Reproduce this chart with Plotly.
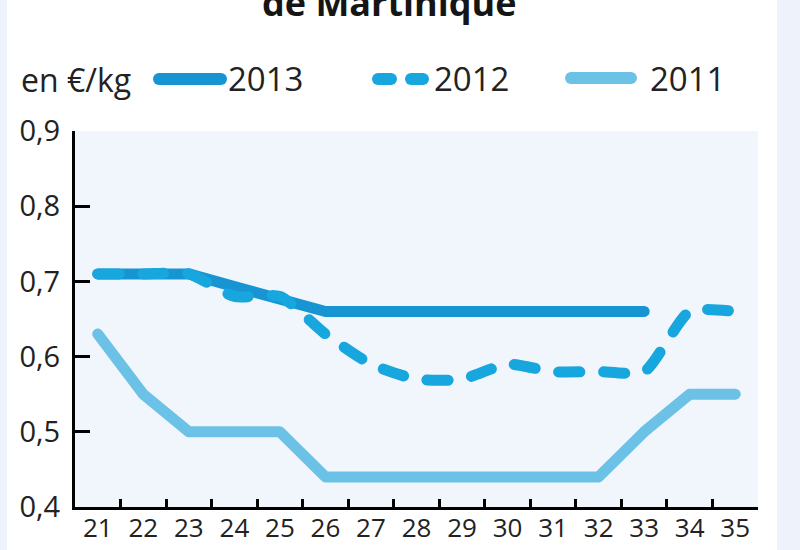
import plotly.graph_objects as go

# ---- data ----
weeks = [str(w) for w in range(21, 36)]
price_2013 = [0.71, 0.71, 0.71, 0.693, 0.677, 0.66, 0.66, 0.66, 0.66, 0.66, 0.66, 0.66, 0.66, None, None]
price_2012 = [0.71, 0.71, 0.71, 0.68, 0.68, 0.63, 0.59, 0.57, 0.57, 0.59, 0.58, 0.58, 0.58, 0.66, 0.66]
price_2011 = [0.63, 0.55, 0.50, 0.50, 0.50, 0.44, 0.44, 0.44, 0.44, 0.44, 0.44, 0.44, 0.50, 0.55, 0.55]
y_ticks = [0.4, 0.5, 0.6, 0.7, 0.8, 0.9]
title_text = "de Martinique"
unit_text = "en €/kg"

C2013 = "#1795d3"
C2012 = "#17a6dd"
C2011 = "#6cc2e6"
FONT = "Open Sans"

W, H = 800, 550
L, R, T, B = 75, 42, 131, 43
PW, PH = W - L - R, H - T - B


def px(x):
    return (x - L) / PW


def py(y):
    return (H - B - y) / PH


fig = go.Figure()
fig.add_trace(go.Scatter(x=weeks, y=price_2011, mode="lines", name="2011",
                         line=dict(color=C2011, width=11), showlegend=False))
fig.add_trace(go.Scatter(x=weeks, y=price_2013, mode="lines", name="2013",
                         line=dict(color=C2013, width=11), showlegend=False))
fig.add_trace(go.Scatter(x=weeks, y=price_2012, mode="lines", name="2012",
                         line=dict(color=C2012, width=11, dash="21px,24px",
                                   shape="spline", smoothing=0.6),
                         showlegend=False))

shapes = [
    # side strips of the page
    dict(type="rect", xref="paper", yref="paper", x0=px(777), x1=px(805), y0=py(-5), y1=py(560),
         fillcolor="#eef3fb", line=dict(width=0), layer="below"),
    dict(type="rect", xref="paper", yref="paper", x0=px(-5), x1=px(7), y0=py(-5), y1=py(560),
         fillcolor="#eef3fb", line=dict(width=0), layer="below"),
    # legend samples
    dict(type="line", xref="paper", yref="paper", x0=px(159), x1=px(221), y0=py(79), y1=py(79),
         line=dict(color=C2013, width=12)),
    dict(type="line", xref="paper", yref="paper", x0=px(378), x1=px(391), y0=py(79), y1=py(79),
         line=dict(color=C2012, width=12)),
    dict(type="line", xref="paper", yref="paper", x0=px(411), x1=px(423), y0=py(79), y1=py(79),
         line=dict(color=C2012, width=12)),
    dict(type="line", xref="paper", yref="paper", x0=px(571), x1=px(631), y0=py(78), y1=py(78),
         line=dict(color=C2011, width=12)),
]

annotations = [
    dict(text="<b>" + title_text + "</b>", xref="paper", yref="paper", x=px(389), y=py(2),
         xanchor="center", yanchor="middle", showarrow=False,
         font=dict(family=FONT, size=36, color="#151515")),
    dict(text=unit_text, xref="paper", yref="paper", x=px(19), y=py(80),
         xanchor="left", yanchor="middle", showarrow=False,
         font=dict(family=FONT, size=32, color="#222222")),
    dict(text="2013", xref="paper", yref="paper", x=px(226), y=py(78),
         xanchor="left", yanchor="middle", showarrow=False,
         font=dict(family=FONT, size=33, color="#222222")),
    dict(text="2012", xref="paper", yref="paper", x=px(432), y=py(78),
         xanchor="left", yanchor="middle", showarrow=False,
         font=dict(family=FONT, size=33, color="#222222")),
    dict(text="2011", xref="paper", yref="paper", x=px(648), y=py(78),
         xanchor="left", yanchor="middle", showarrow=False,
         font=dict(family=FONT, size=33, color="#222222")),
]

fig.update_layout(
    width=W, height=H,
    margin=dict(l=L, r=R, t=T, b=B, autoexpand=False),
    paper_bgcolor="white",
    plot_bgcolor="#f0f6fb",
    separators=", ",
    showlegend=False,
    shapes=shapes,
    annotations=annotations,
    font=dict(family=FONT, color="#222222"),
    xaxis=dict(type="category", tickson="boundaries", ticks="inside", ticklen=8, tickwidth=3,
               tickcolor="black", showline=True, linewidth=3, linecolor="black",
               showgrid=False, zeroline=False, ticklabelstandoff=-4, automargin=False,
               tickfont=dict(family=FONT, size=26, color="#222222"),
               range=[-0.5, 14.5]),
    yaxis=dict(range=[0.4, 0.9], tickvals=y_ticks, tickformat=".1f", ticks="inside",
               ticklen=15, tickwidth=3, tickcolor="black", showline=True, linewidth=3,
               linecolor="black", showgrid=False, zeroline=False, ticklabelstandoff=6,
               automargin=False,
               tickfont=dict(family=FONT, size=29, color="#222222")),
)

post = ("var s=document.createElement('style');"
        "s.innerHTML='html,body{margin:0;padding:0;overflow:hidden;}"
        ".scatterlayer .js-line, .shapelayer path{stroke-linecap:round;stroke-linejoin:round;}';"
        "document.head.appendChild(s);")
fig.write_html("out.html", post_script=post, config={"displayModeBar": False})
